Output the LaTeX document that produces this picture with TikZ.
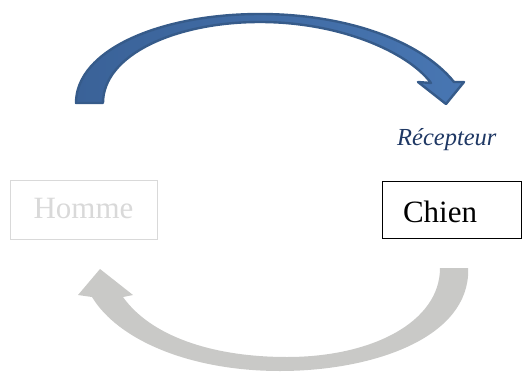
\documentclass[tikz,border=0pt]{standalone}
\usepackage{fontspec}
\setmainfont{Liberation Serif}
\definecolor{arrowblue}{RGB}{72,118,178}
\definecolor{arrowbluedark}{RGB}{58,98,152}
\definecolor{arrowblueline}{RGB}{54,91,138}
\definecolor{arrowgrey}{RGB}{201,201,199}
\definecolor{palegrey}{RGB}{217,217,217}
\definecolor{labelblue}{RGB}{31,56,100}
\begin{document}
\begin{tikzpicture}[x=1pt,y=-1pt,
  bigword/.style={font=\fontsize{31}{36}\selectfont},
  palebox/.style={draw=palegrey,line width=1pt,text=palegrey,bigword},
  darkbox/.style={draw=black,line width=0.9pt,text=black,bigword},
  bluearrow/.style={draw=arrowblueline,line width=2.4pt,line join=round,
    left color=arrowbluedark,right color=arrowblue},
  greyarrow/.style={fill=arrowgrey}]
\useasboundingbox (0,0) rectangle (522,372);

% upper curved arrow, left to right
\path[bluearrow]
  (76,103) .. controls (76,50) and (160,14) .. (260,14)
  .. controls (345,14) and (420,40) .. (454,82)
  -- (464,82) -- (446,104) -- (418,82) -- (431,83)
  .. controls (408,52) and (340,22) .. (260,22)
  .. controls (175,22) and (103,55) .. (103,103) -- cycle;

% lower curved arrow, right to left
\path[greyarrow]
  (468,268) -- (468,276) .. controls (463,340) and (370,371) .. (280,371)
  .. controls (190,371) and (118,340) .. (92,297)
  -- (78,295) -- (100,269) -- (133,295) -- (123,297)
  .. controls (150,335) and (210,357) .. (287,357)
  .. controls (372,357) and (440,322) .. (440,268) -- cycle;

\node[palebox,minimum width=147pt,minimum height=59pt,
      text height=18pt,text depth=0pt,inner xsep=0pt] (homme) at (83.5,209.5) {Homme};
\node[darkbox,text width=97.5pt,inner xsep=21pt,align=left,minimum height=57pt,
      text height=26pt,text depth=0pt] (chien) at (451.75,209.5) {Chien};
\node[anchor=base west,inner sep=0pt,text=labelblue,
      font=\itshape\fontsize{24.5}{29}\selectfont] (recepteur) at (397,145) {Récepteur};
\end{tikzpicture}
\end{document}
